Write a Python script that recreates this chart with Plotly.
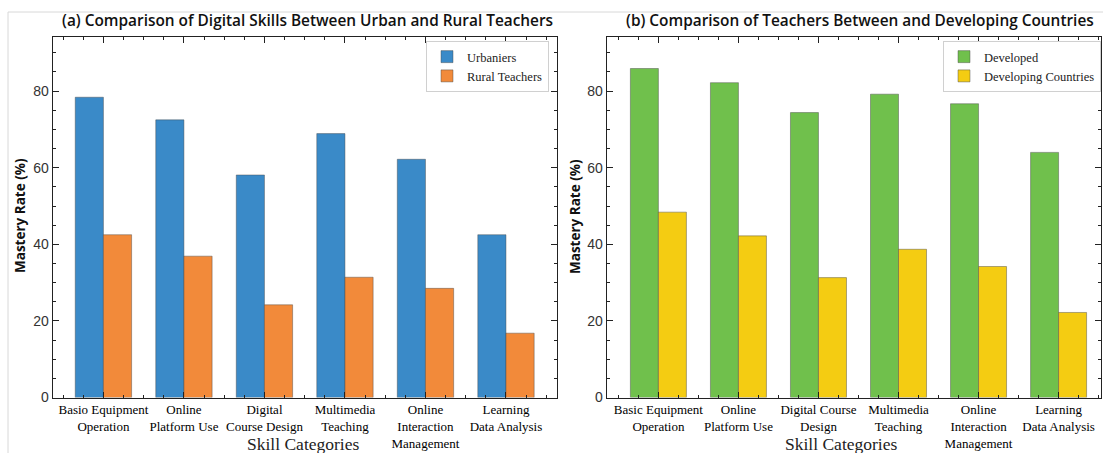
import plotly.graph_objects as go

# Skill categories (tick labels) for both panels
skills_a = ["Basio Equipment<br>Operation", "Online<br>Platform Use", "Digital<br>Course Design",
            "Multimedia<br>Teaching", "Online<br>Interaction<br>Management", "Learning<br>Data Analysis"]
skills_b = ["Basic Equipment<br>Operation", "Online<br>Platform Use", "Digital Course<br>Design",
            "Multimedia<br>Teaching", "Online<br>Interaction<br>Management", "Learning<br>Data Analysis"]

# Mastery rates (%)
urban = [78.4, 72.5, 58.1, 68.9, 62.2, 42.5]
rural = [42.5, 36.9, 24.2, 31.4, 28.5, 16.8]
developed = [85.9, 82.2, 74.4, 79.2, 76.7, 64.0]
developing = [48.4, 42.2, 31.3, 38.7, 34.2, 22.2]

positions = list(range(6))

W, H = 1103, 453
BLUE, ORANGE = "#3a8ac8", "#f28a3a"
GREEN, YELLOW = "#70c04c", "#f4cc12"
EDGE = "rgba(70,70,70,0.55)"
SERIF = "Liberation Serif"
SANS = "Liberation Sans"

fig = go.Figure()

def add_bars(xref, yref, vals_a, vals_b, name_a, name_b, col_a, col_b, legend):
    fig.add_trace(go.Bar(x=positions, y=vals_a, name=name_a, width=0.35, offset=-0.35,
                         marker=dict(color=col_a, line=dict(color=EDGE, width=0.8)),
                         xaxis=xref, yaxis=yref, legend=legend))
    fig.add_trace(go.Bar(x=positions, y=vals_b, name=name_b, width=0.35, offset=0.0,
                         marker=dict(color=col_b, line=dict(color=EDGE, width=0.8)),
                         xaxis=xref, yaxis=yref, legend=legend))

add_bars("x", "y", urban, rural, "Urbaniers", "Rural Teachers", BLUE, ORANGE, "legend")
add_bars("x2", "y2", developed, developing, "Developed", "Developing Countries", GREEN, YELLOW, "legend2")

def px_x(p):
    return p / W

def px_y(p):
    return 1 - p / H

y_dom = [px_y(397.5), px_y(36.7)]
ymax = (397.5 - 36.7) / 3.83

def xaxis(dom, labels, rng, anchor):
    return dict(domain=dom, range=rng, anchor=anchor, tickvals=positions, ticktext=labels,
                tickangle=0, automargin=False,
                showline=True, linecolor="#222", linewidth=1, mirror="allticks",
                ticks="inside", ticklen=6, tickcolor="#222",
                minor=dict(ticks="inside", ticklen=3, dtick=0.25, tick0=0, tickcolor="#222"),
                showgrid=False, zeroline=False,
                tickfont=dict(family=SERIF, size=13, color="#000"))

def yaxis(anchor):
    return dict(domain=y_dom, range=[0, ymax], anchor=anchor, tickvals=[0, 20, 40, 60, 80],
                automargin=False,
                showline=True, linecolor="#222", linewidth=1, mirror="allticks",
                ticks="inside", ticklen=6, tickcolor="#222",
                minor=dict(ticks="inside", ticklen=3, dtick=5, tickcolor="#222"),
                showgrid=False, zeroline=False,
                tickfont=dict(family=SANS, size=14, color="#333"))

fig.update_layout(
    width=W, height=H, margin=dict(l=0, r=0, t=0, b=0, autoexpand=False),
    paper_bgcolor="white", plot_bgcolor="white",
    barmode="overlay",
    xaxis=xaxis([px_x(52.7), px_x(556.7)], skills_a, [-0.63, 5.63], "y"),
    yaxis=yaxis("x"),
    xaxis2=xaxis([px_x(606.7), px_x(1101)], skills_b, [-0.646, 5.53], "y2"),
    yaxis2=yaxis("x2"),
    legend=dict(x=px_x(549), y=px_y(41), xanchor="right", yanchor="top",
                bgcolor="white", bordercolor="#d0d0d0", borderwidth=1,
                font=dict(family=SERIF, size=12.5, color="#222"),
                itemwidth=30, tracegroupgap=0),
    legend2=dict(x=px_x(1101), y=px_y(41), xanchor="right", yanchor="top",
                 bgcolor="white", bordercolor="#d0d0d0", borderwidth=1,
                 font=dict(family=SERIF, size=12.5, color="#222"),
                 itemwidth=30, tracegroupgap=0),
    showlegend=True,
)

# light frame lines along the top and left of the figure
for x0, y0, x1, y1 in [(8, 12, W, 12), (8, 12, 8, H)]:
    fig.add_shape(type="line", xref="paper", yref="paper",
                  x0=px_x(x0), y0=px_y(y0), x1=px_x(x1), y1=px_y(y1),
                  line=dict(color="#d8d8d8", width=1), layer="below")

annotations = [
    dict(text="(a) Comparison of Digital Skills Between Urban and Rural Teachers",
         x=px_x(307), y=px_y(20), font=dict(family="Open Sans", size=15.4, color="#111", weight=600)),
    dict(text="(b) Comparison of Teachers Between and Developing Countries",
         x=px_x(860), y=px_y(20), font=dict(family="Open Sans", size=15.4, color="#111", weight=600)),
    dict(text="Skill Categories", x=px_x(303), y=px_y(444),
         font=dict(family=SERIF, size=17.5, color="#222")),
    dict(text="Skill Categories", x=px_x(841), y=px_y(444),
         font=dict(family=SERIF, size=17.5, color="#222")),
    dict(text="Mastery Rate (%)", x=px_x(20), y=px_y(216), textangle=-90,
         font=dict(family="Open Sans", size=13.5, color="#111", weight=700)),
    dict(text="Mastery Rate (%)", x=px_x(575), y=px_y(216), textangle=-90,
         font=dict(family="Open Sans", size=13.5, color="#111", weight=700)),
]
for a in annotations:
    fig.add_annotation(xref="paper", yref="paper", showarrow=False,
                       xanchor="center", yanchor="middle", **a)

fig.write_html("out.html")
